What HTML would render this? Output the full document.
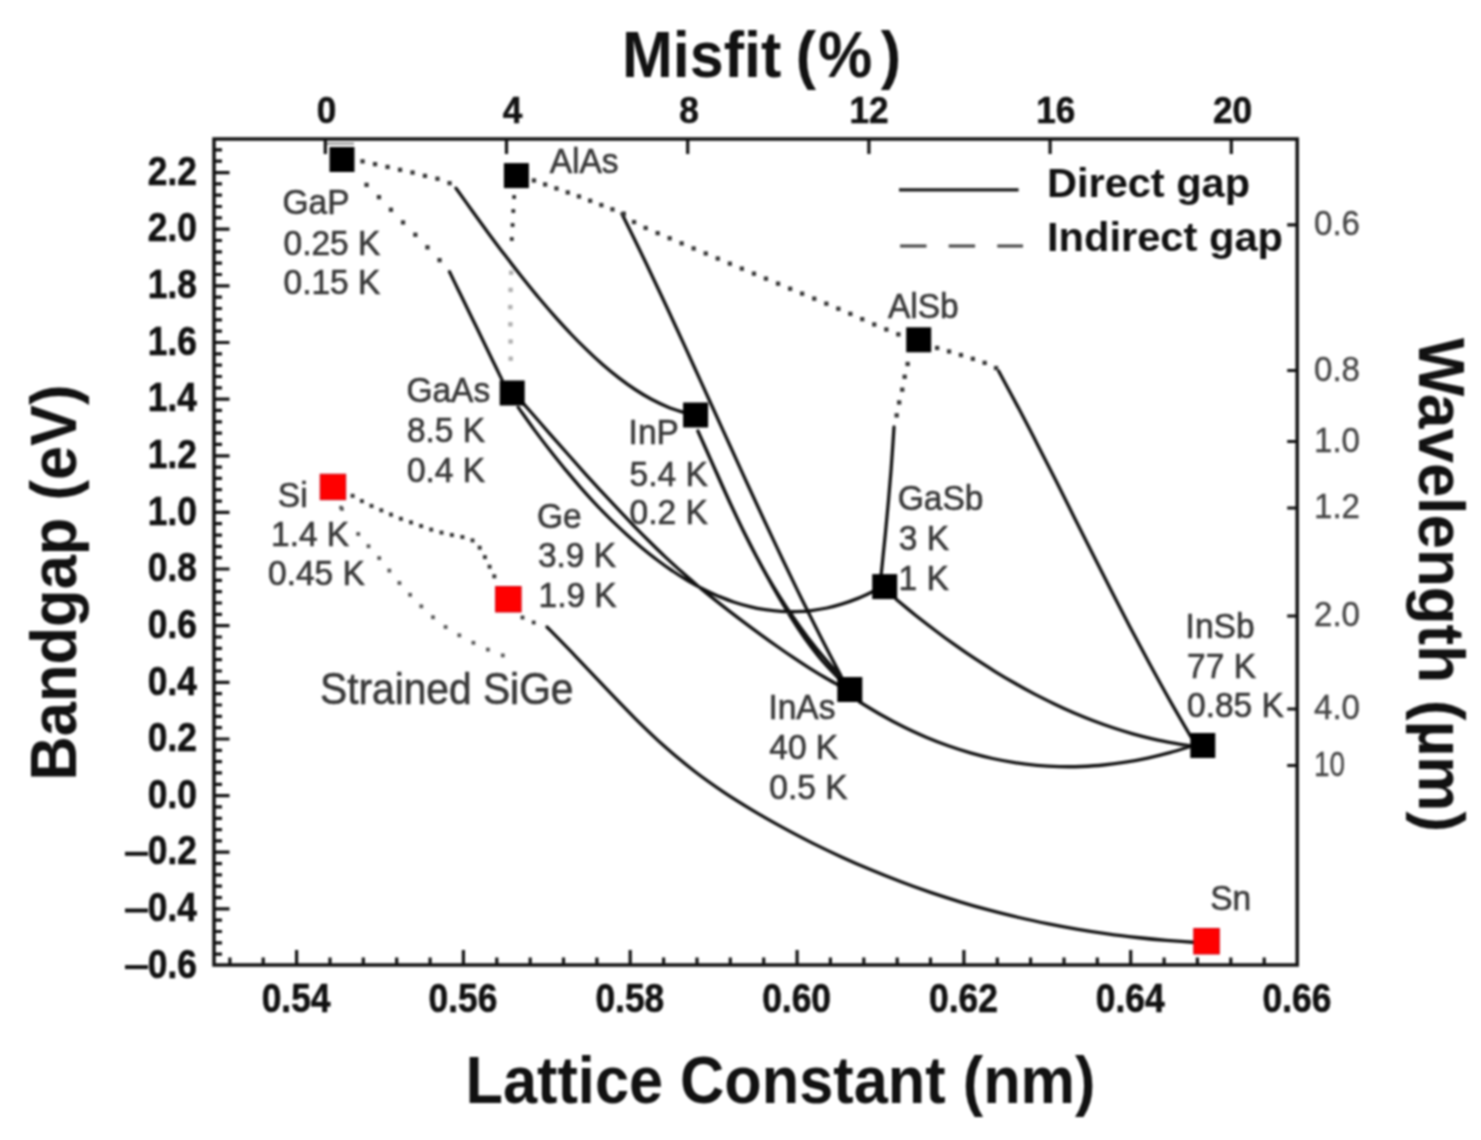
<!DOCTYPE html>
<html><head><meta charset="utf-8"><title>Bandgap vs Lattice Constant</title>
<style>html,body{margin:0;padding:0;background:#fff;}svg{display:block;} #wrap{filter:blur(1px);}</style></head>
<body>
<div id="wrap"><svg width="1481" height="1140" viewBox="0 0 1481 1140">
<rect width="1481" height="1140" fill="#fff"/>
<path d="M229.9,965 V957.5 M263.2,965 V957.5 M296.6,965 V950 M330,965 V957.5 M363.3,965 V957.5 M396.7,965 V957.5 M430.1,965 V957.5 M463.4,965 V950 M496.8,965 V957.5 M530.2,965 V957.5 M563.5,965 V957.5 M596.9,965 V957.5 M630.2,965 V950 M663.6,965 V957.5 M697,965 V957.5 M730.3,965 V957.5 M763.7,965 V957.5 M797.1,965 V950 M830.4,965 V957.5 M863.8,965 V957.5 M897.2,965 V957.5 M930.5,965 V957.5 M963.9,965 V950 M997.3,965 V957.5 M1030.6,965 V957.5 M1064,965 V957.5 M1097.3,965 V957.5 M1130.7,965 V950 M1164.1,965 V957.5 M1197.4,965 V957.5 M1230.8,965 V957.5 M1264.2,965 V957.5 M214,954.2 H222 M214,942.9 H222 M214,931.5 H222 M214,920.2 H222 M214,908.9 H229.5 M214,897.6 H222 M214,886.2 H222 M214,874.9 H222 M214,863.6 H222 M214,852.2 H229.5 M214,840.9 H222 M214,829.6 H222 M214,818.3 H222 M214,806.9 H222 M214,795.6 H229.5 M214,784.3 H222 M214,772.9 H222 M214,761.6 H222 M214,750.3 H222 M214,739 H229.5 M214,727.6 H222 M214,716.3 H222 M214,705 H222 M214,693.6 H222 M214,682.3 H229.5 M214,671 H222 M214,659.7 H222 M214,648.3 H222 M214,637 H222 M214,625.7 H229.5 M214,614.4 H222 M214,603 H222 M214,591.7 H222 M214,580.4 H222 M214,569 H229.5 M214,557.7 H222 M214,546.4 H222 M214,535.1 H222 M214,523.7 H222 M214,512.4 H229.5 M214,501.1 H222 M214,489.7 H222 M214,478.4 H222 M214,467.1 H222 M214,455.8 H229.5 M214,444.4 H222 M214,433.1 H222 M214,421.8 H222 M214,410.4 H222 M214,399.1 H229.5 M214,387.8 H222 M214,376.5 H222 M214,365.1 H222 M214,353.8 H222 M214,342.5 H229.5 M214,331.2 H222 M214,319.8 H222 M214,308.5 H222 M214,297.2 H222 M214,285.8 H229.5 M214,274.5 H222 M214,263.2 H222 M214,251.9 H222 M214,240.5 H222 M214,229.2 H229.5 M214,217.9 H222 M214,206.5 H222 M214,195.2 H222 M214,183.9 H222 M214,172.6 H229.5 M214,161.2 H222 M214,149.9 H222 M325.3,139 V154 M506.5,139 V154 M687.7,139 V154 M868.9,139 V154 M1050.1,139 V154 M1231.3,139 V154 M1297.2,224.8 H1287.2 M1297.2,370.5 H1287.2 M1297.2,441.5 H1287.2 M1297.2,508 H1287.2 M1297.2,616 H1287.2 M1297.2,709 H1287.2 M1297.2,765.5 H1287.2" fill="none" stroke="#111" stroke-width="3.2"/>
<rect x="214" y="139" width="1083.2" height="826" fill="none" stroke="#111" stroke-width="3.5"/>
<path d="M456,188.2 C458.7,192 466.9,203.5 472.3,211 C477.7,218.5 483.1,226 488.6,233.4 C494,240.7 499.4,248 504.9,255.1 C510.3,262.2 515.7,269.2 521.1,276 C526.6,282.9 532,289.6 537.4,296.1 C542.9,302.6 548.3,309 553.7,315.1 C559.1,321.3 564.6,327.2 570,333 C575.4,338.7 580.9,344.2 586.3,349.4 C591.7,354.7 597.1,359.7 602.6,364.5 C608,369.2 613.4,373.7 618.9,377.9 C624.3,382.1 629.7,386 635.1,389.5 C640.6,393.1 646,396.4 651.4,399.3 C656.9,402.2 662.3,404.8 667.7,407 C673.1,409.2 681.3,411.6 684,412.5 M449.5,271.8 C451,274.8 455.3,283.8 458.2,289.8 C461.2,295.8 464.1,301.8 467,307.8 C469.9,313.8 472.8,319.8 475.8,325.8 C478.7,331.8 481.6,337.8 484.5,343.8 C487.4,349.8 490.3,355.8 493.2,361.8 C496.2,367.8 500.5,376.8 502,379.8 M622,214 C625.1,220.4 634.7,239.7 640.9,252.5 C647.1,265.3 653.2,278.2 659.2,291 C665.3,303.8 671.2,316.7 677.1,329.5 C683,342.3 688.9,355.2 694.7,368 C700.6,380.8 706.4,393.7 712.2,406.5 C718,419.3 723.8,432.2 729.7,445 C735.5,457.8 741.3,470.7 747.2,483.5 C753.1,496.3 759,509.2 765,522 C771,534.8 777,547.7 783.1,560.5 C789.2,573.3 795.4,586.2 801.7,599 C808.1,611.8 814.4,624.7 821,637.5 C827.5,650.3 837.7,669.6 841,676 M697.9,431 C699.4,434.5 704,444.8 707.1,451.8 C710.2,458.7 713.2,465.6 716.3,472.5 C719.3,479.4 722.4,486.3 725.6,493.2 C728.7,500.2 731.9,507.1 735.2,514 C738.4,520.9 741.8,527.8 745.2,534.8 C748.6,541.7 752.1,548.6 755.8,555.5 C759.4,562.4 763.1,569.3 767,576.2 C770.8,583.2 774.7,590.1 778.7,597 C782.8,603.9 786.9,610.8 791.3,617.8 C795.6,624.7 800.1,631.6 805,638.5 C810,645.4 815.1,652.3 820.9,659.2 C826.8,666.2 836.8,676.5 840,680 M697.9,431 C699.4,434.4 704.1,444.8 707.2,451.7 C710.2,458.6 713.3,465.4 716.4,472.3 C719.4,479.2 722.5,486.1 725.6,493 C728.8,499.9 731.9,506.8 735.2,513.7 C738.4,520.6 741.7,527.4 745.1,534.3 C748.6,541.2 752.1,548.1 755.7,555 C759.4,561.9 763.2,568.8 767.1,575.7 C771.1,582.6 775.2,589.4 779.5,596.3 C783.8,603.2 788.3,610.1 793.1,617 C797.8,623.9 802.8,630.8 808,637.7 C813.3,644.6 818.8,651.4 824.6,658.3 C830.4,665.2 839.9,675.6 843,679 M522.8,402.8 C525.4,405.8 533.4,414.9 538.7,421 C543.9,427 549.2,433.1 554.5,439.1 C559.8,445.1 565.1,451.1 570.4,457 C575.7,463 581,468.9 586.2,474.8 C591.5,480.6 596.8,486.5 602.1,492.2 C607.4,497.9 612.7,503.6 618,509.2 C623.2,514.8 628.5,520.3 633.8,525.8 C639.1,531.2 644.4,536.5 649.7,541.7 C655,547 660.3,552.1 665.5,557.1 C670.8,562 676.1,566.9 681.4,571.6 C686.7,576.4 692,580.9 697.3,585.4 C702.5,589.9 707.8,594.2 713.1,598.4 C718.4,602.7 723.7,606.8 729,610.9 C734.3,615 739.6,619 744.8,622.9 C750.1,626.9 755.4,630.8 760.7,634.6 C766,638.5 771.3,642.3 776.6,646 C781.8,649.7 787.1,653.4 792.4,656.9 C797.7,660.5 803,664 808.3,667.3 C813.6,670.7 818.9,673.9 824.1,677 C829.4,680.2 837.4,684.5 840,686 M518.2,407.4 C520.8,411 528.5,421.9 533.6,428.9 C538.8,435.9 543.9,442.7 549.1,449.3 C554.2,455.9 559.4,462.3 564.5,468.6 C569.7,474.8 574.8,480.9 580,486.8 C585.1,492.6 590.2,498.3 595.4,503.8 C600.5,509.3 605.7,514.6 610.8,519.7 C616,524.7 621.1,529.6 626.3,534.3 C631.4,539 636.6,543.5 641.7,547.8 C646.9,552.1 652,556.2 657.2,560 C662.3,563.9 667.4,567.6 672.6,571 C677.7,574.5 682.9,577.8 688,580.8 C693.2,583.8 698.3,586.6 703.5,589.2 C708.6,591.8 713.8,594.2 718.9,596.4 C724.1,598.5 729.2,600.5 734.3,602.2 C739.5,603.9 744.6,605.4 749.8,606.6 C754.9,607.9 760.1,608.9 765.2,609.7 C770.4,610.5 775.5,611.1 780.7,611.4 C785.8,611.7 791,611.8 796.1,611.7 C801.3,611.6 806.4,611.2 811.5,610.6 C816.7,609.9 821.8,609.1 827,608 C832.1,606.9 837.3,605.5 842.4,603.9 C847.6,602.3 852.7,600.5 857.9,598.4 C863,596.3 870.7,592.5 873.3,591.3 M894,427 C893.8,430.5 893.1,441.2 892.6,448.3 C892.1,455.4 891.6,462.5 891.1,469.6 C890.5,476.7 889.9,483.8 889.3,490.9 C888.7,498 888.1,505 887.4,512.1 C886.7,519.2 886,526.3 885.4,533.4 C884.7,540.5 883.9,547.6 883.2,554.7 C882.5,561.8 881.4,572.5 881,576 M998.6,371 C1001.9,377.1 1011.8,395.4 1018.3,407.6 C1024.7,419.8 1031.1,432 1037.3,444.2 C1043.6,456.4 1049.8,468.6 1056,480.8 C1062.1,493 1068.2,505.2 1074.3,517.4 C1080.5,529.6 1086.6,541.8 1092.7,554 C1098.9,566.2 1105,578.4 1111.2,590.6 C1117.5,602.8 1123.7,615 1130.1,627.2 C1136.5,639.4 1143,651.6 1149.6,663.8 C1156.2,676 1162.9,688.2 1169.8,700.4 C1176.7,712.6 1187.5,730.9 1191,737 M896.1,599.3 C899.4,602 909.3,610.2 915.8,615.5 C922.4,620.7 929,625.8 935.6,630.7 C942.1,635.7 948.7,640.5 955.3,645.1 C961.9,649.8 968.4,654.3 975,658.7 C981.6,663 988.2,667.2 994.7,671.3 C1001.3,675.4 1007.9,679.3 1014.5,683 C1021,686.8 1027.6,690.4 1034.2,693.9 C1040.8,697.3 1047.3,700.6 1053.9,703.7 C1060.5,706.9 1067.1,709.9 1073.6,712.7 C1080.2,715.5 1086.8,718.2 1093.4,720.7 C1099.9,723.2 1106.5,725.5 1113.1,727.7 C1119.7,729.9 1126.2,731.9 1132.8,733.8 C1139.4,735.6 1146,737.3 1152.5,738.9 C1159.1,740.4 1165.7,741.8 1172.3,742.9 C1178.8,744.1 1188.7,745.5 1192,746 M859.6,702 C863.3,704.2 874.4,711.1 881.8,715.3 C889.1,719.5 896.5,723.4 903.9,727 C911.3,730.7 918.7,734 926.1,737.2 C933.5,740.3 940.9,743.2 948.2,745.8 C955.6,748.4 963,750.8 970.4,752.9 C977.8,755 985.2,756.9 992.6,758.5 C999.9,760.1 1007.3,761.5 1014.7,762.6 C1022.1,763.8 1029.5,764.7 1036.9,765.3 C1044.3,766 1051.7,766.4 1059,766.6 C1066.4,766.8 1073.8,766.8 1081.2,766.5 C1088.6,766.2 1096,765.8 1103.4,765 C1110.7,764.3 1118.1,763.4 1125.5,762.2 C1132.9,761.1 1140.3,759.7 1147.7,758.1 C1155.1,756.5 1162.5,754.7 1169.8,752.7 C1177.2,750.7 1188.3,747.1 1192,746 M547,627 C551.9,632 566.7,647 576.5,657.3 C586.3,667.5 596.2,678.1 606,688.4 C615.8,698.6 625.7,709 635.5,718.8 C645.3,728.5 655.2,738.1 665,746.8 C674.8,755.6 684.7,763.6 694.5,771.2 C704.3,778.8 714.2,785.7 724,792.3 C733.8,798.9 743.7,804.9 753.5,810.8 C763.3,816.7 773.2,822.2 783,827.6 C792.8,833 802.7,838.1 812.5,843.1 C822.3,848 832.2,852.7 842,857.2 C851.8,861.7 861.7,866 871.5,870.1 C881.3,874.2 891.2,878.1 901,881.8 C910.8,885.6 920.7,889.1 930.5,892.4 C940.3,895.7 950.2,898.9 960,901.8 C969.8,904.8 979.7,907.6 989.5,910.2 C999.3,912.8 1009.2,915.3 1019,917.5 C1028.8,919.8 1038.7,921.9 1048.5,923.9 C1058.3,925.9 1068.2,927.7 1078,929.3 C1087.8,931 1097.7,932.5 1107.5,933.8 C1117.3,935.2 1127.2,936.4 1137,937.5 C1146.8,938.6 1156.7,939.6 1166.5,940.4 C1176.3,941.2 1191.1,942.2 1196,942.5" fill="none" stroke="#111" stroke-width="3.3" stroke-linecap="round" stroke-linejoin="round"/>
<g fill="#333"><rect x="360.4" y="159.2" width="4.3" height="4.3"/><rect x="372.9" y="162" width="4.3" height="4.3"/><rect x="385.4" y="164.8" width="4.3" height="4.3"/><rect x="397.9" y="167.7" width="4.3" height="4.3"/><rect x="410.4" y="170.4" width="4.3" height="4.3"/><rect x="422.8" y="173.7" width="4.3" height="4.3"/><rect x="435.3" y="176.6" width="4.3" height="4.3"/><rect x="447.4" y="181" width="4.3" height="4.3"/></g>
<g fill="#333"><rect x="364.4" y="182.7" width="4.3" height="4.3"/><rect x="376.8" y="195" width="4.3" height="4.3"/><rect x="388.8" y="207.6" width="4.3" height="4.3"/><rect x="400.9" y="220.3" width="4.3" height="4.3"/><rect x="413.2" y="232.6" width="4.3" height="4.3"/><rect x="425.3" y="245.2" width="4.3" height="4.3"/><rect x="437.4" y="258" width="4.3" height="4.3"/></g>
<g fill="#333"><rect x="531.8" y="178.3" width="4.3" height="4.3"/><rect x="543" y="182.3" width="4.3" height="4.3"/><rect x="554.3" y="186.3" width="4.3" height="4.3"/><rect x="565.6" y="190.3" width="4.3" height="4.3"/><rect x="576.8" y="194.3" width="4.3" height="4.3"/><rect x="588" y="198.6" width="4.3" height="4.3"/><rect x="599.2" y="202.9" width="4.3" height="4.3"/><rect x="610.3" y="207.2" width="4.3" height="4.3"/><rect x="621.5" y="211.5" width="4.3" height="4.3"/></g>
<g fill="#2a2a2a"><rect x="512.2" y="195.1" width="3.8" height="3.8"/><rect x="511.4" y="209.1" width="3.8" height="3.8"/><rect x="510.7" y="223.1" width="3.8" height="3.8"/><rect x="509.9" y="237.1" width="3.8" height="3.8"/></g>
<g fill="#333"><rect x="621.4" y="212.2" width="4.3" height="4.3"/><rect x="631.9" y="219.9" width="4.3" height="4.3"/><rect x="643.5" y="225.8" width="4.3" height="4.3"/><rect x="655.5" y="231" width="4.3" height="4.3"/><rect x="667.5" y="236.1" width="4.3" height="4.3"/><rect x="679.5" y="241.2" width="4.3" height="4.3"/><rect x="691.5" y="246.3" width="4.3" height="4.3"/><rect x="703.6" y="251.3" width="4.3" height="4.3"/><rect x="715.6" y="256.4" width="4.3" height="4.3"/><rect x="727.7" y="261.5" width="4.3" height="4.3"/><rect x="739.7" y="266.5" width="4.3" height="4.3"/><rect x="751.8" y="271.5" width="4.3" height="4.3"/><rect x="763.8" y="276.5" width="4.3" height="4.3"/><rect x="775.9" y="281.5" width="4.3" height="4.3"/><rect x="788" y="286.6" width="4.3" height="4.3"/><rect x="800" y="291.5" width="4.3" height="4.3"/><rect x="812.1" y="296.5" width="4.3" height="4.3"/><rect x="824.2" y="301.5" width="4.3" height="4.3"/><rect x="836.2" y="306.6" width="4.3" height="4.3"/><rect x="848.2" y="311.7" width="4.3" height="4.3"/><rect x="860.1" y="317" width="4.3" height="4.3"/><rect x="872.1" y="322.3" width="4.3" height="4.3"/><rect x="884.2" y="327.3" width="4.3" height="4.3"/><rect x="896.2" y="332.2" width="4.3" height="4.3"/></g>
<g fill="#333"><rect x="935" y="345.8" width="4.3" height="4.3"/><rect x="946.9" y="349.3" width="4.3" height="4.3"/><rect x="958.8" y="352.9" width="4.3" height="4.3"/><rect x="970.7" y="356.7" width="4.3" height="4.3"/><rect x="982.5" y="360.7" width="4.3" height="4.3"/><rect x="993.9" y="365.9" width="4.3" height="4.3"/></g>
<g fill="#333"><rect x="905.5" y="361.8" width="4.3" height="4.3"/><rect x="902.5" y="374.6" width="4.3" height="4.3"/><rect x="900.1" y="387.5" width="4.3" height="4.3"/><rect x="897" y="400.3" width="4.3" height="4.3"/><rect x="894.5" y="413.2" width="4.3" height="4.3"/></g>
<g fill="#333"><rect x="350.6" y="493.8" width="4" height="4"/><rect x="359.9" y="499.1" width="4" height="4"/><rect x="369.5" y="503.9" width="4" height="4"/><rect x="379.3" y="508.3" width="4" height="4"/><rect x="389" y="512.6" width="4" height="4"/><rect x="398.9" y="516.8" width="4" height="4"/><rect x="409" y="520.4" width="4" height="4"/><rect x="419.1" y="524" width="4" height="4"/><rect x="429.2" y="527.6" width="4" height="4"/><rect x="439.5" y="530.6" width="4" height="4"/><rect x="449.9" y="533" width="4" height="4"/><rect x="460.4" y="535" width="4" height="4"/><rect x="470.5" y="538.4" width="4" height="4"/><rect x="477.7" y="545.7" width="4" height="4"/><rect x="482.9" y="555.1" width="4" height="4"/><rect x="487.6" y="564.7" width="4" height="4"/><rect x="492.3" y="574.3" width="4" height="4"/></g>
<g fill="#555"><rect x="356.3" y="532.1" width="3.8" height="3.8"/><rect x="366.6" y="544.3" width="3.8" height="3.8"/><rect x="377.3" y="556.2" width="3.8" height="3.8"/><rect x="387.4" y="568.7" width="3.8" height="3.8"/><rect x="397.5" y="581.1" width="3.8" height="3.8"/><rect x="408.2" y="592.9" width="3.8" height="3.8"/><rect x="419.4" y="604.4" width="3.8" height="3.8"/><rect x="431.1" y="615.3" width="3.8" height="3.8"/><rect x="443.7" y="625.1" width="3.8" height="3.8"/><rect x="457.4" y="633.4" width="3.8" height="3.8"/><rect x="471.5" y="640.9" width="3.8" height="3.8"/><rect x="486" y="647.7" width="3.8" height="3.8"/><rect x="500.9" y="653.5" width="3.8" height="3.8"/></g>
<g fill="#555"><rect x="339.2" y="505.8" width="3.6" height="3.6"/><rect x="340.2" y="507.2" width="3.6" height="3.6"/></g>
<g fill="#333"><rect x="520.6" y="615.6" width="3.8" height="3.8"/><rect x="531.8" y="620.6" width="3.8" height="3.8"/></g>
<g fill="#b0b0b0"><rect x="509" y="270.5" width="4.4" height="4.4"/><rect x="508.4" y="287.7" width="4.4" height="4.4"/><rect x="508.1" y="304.9" width="4.4" height="4.4"/><rect x="508.2" y="322.1" width="4.4" height="4.4"/><rect x="508.4" y="339.3" width="4.4" height="4.4"/><rect x="508.5" y="356.5" width="4.4" height="4.4"/></g>
<rect x="329.5" y="147" width="25" height="25" fill="#000"/>
<rect x="503.9" y="163.1" width="25" height="25" fill="#000"/>
<rect x="499.7" y="380.5" width="25" height="25" fill="#000"/>
<rect x="683.1" y="402.5" width="25" height="25" fill="#000"/>
<rect x="906.2" y="327.3" width="25" height="25" fill="#000"/>
<rect x="872.2" y="574.1" width="25" height="25" fill="#000"/>
<rect x="837.3" y="677" width="25" height="25" fill="#000"/>
<rect x="1190.3" y="733" width="25" height="25" fill="#000"/>
<rect x="320.2" y="474.2" width="25.5" height="25.5" fill="#f00" stroke="#d00010" stroke-width="1"/>
<rect x="495.6" y="586.5" width="25.5" height="25.5" fill="#f00" stroke="#d00010" stroke-width="1"/>
<rect x="1193.8" y="928.5" width="25.5" height="25.5" fill="#f00" stroke="#d00010" stroke-width="1"/>
<path d="M327,143.6 H354" stroke="#8a8a8a" stroke-width="2"/>
<g font-family="Liberation Sans, sans-serif" font-weight="bold" font-size="34" fill="#111" stroke="#111" stroke-width="0.5" text-anchor="end">
<text transform="translate(197,977.7) scale(1.04,1.18)">0.6</text>
<text transform="translate(197,921.1) scale(1.04,1.18)">0.4</text>
<text transform="translate(197,864.4) scale(1.04,1.18)">0.2</text>
<text transform="translate(197,807.8) scale(1.04,1.18)">0.0</text>
<text transform="translate(197,751.2) scale(1.04,1.18)">0.2</text>
<text transform="translate(197,694.5) scale(1.04,1.18)">0.4</text>
<text transform="translate(197,637.9) scale(1.04,1.18)">0.6</text>
<text transform="translate(197,581.2) scale(1.04,1.18)">0.8</text>
<text transform="translate(197,524.6) scale(1.04,1.18)">1.0</text>
<text transform="translate(197,468) scale(1.04,1.18)">1.2</text>
<text transform="translate(197,411.3) scale(1.04,1.18)">1.4</text>
<text transform="translate(197,354.7) scale(1.04,1.18)">1.6</text>
<text transform="translate(197,298) scale(1.04,1.18)">1.8</text>
<text transform="translate(197,241.4) scale(1.04,1.18)">2.0</text>
<text transform="translate(197,184.8) scale(1.04,1.18)">2.2</text>
</g>
<rect x="125" y="851.8" width="23" height="4" fill="#111"/>
<rect x="125" y="908.5" width="23" height="4" fill="#111"/>
<rect x="125" y="965.1" width="23" height="4" fill="#111"/>
<g font-family="Liberation Sans, sans-serif" font-weight="bold" font-size="34" fill="#111" stroke="#111" stroke-width="0.5" text-anchor="middle">
<text transform="translate(296.1,1011.8) scale(1.04,1.18)">0.54</text>
<text transform="translate(462.9,1011.8) scale(1.04,1.18)">0.56</text>
<text transform="translate(629.8,1011.8) scale(1.04,1.18)">0.58</text>
<text transform="translate(796.6,1011.8) scale(1.04,1.18)">0.60</text>
<text transform="translate(963.4,1011.8) scale(1.04,1.18)">0.62</text>
<text transform="translate(1130.2,1011.8) scale(1.04,1.18)">0.64</text>
<text transform="translate(1297,1011.8) scale(1.04,1.18)">0.66</text>
</g>
<g font-family="Liberation Sans, sans-serif" font-weight="bold" font-size="34.5" fill="#111" stroke="#111" stroke-width="0.5" text-anchor="middle">
<text transform="translate(326.6,122.6) scale(1.02,1.06)">0</text>
<text transform="translate(512.5,122.6) scale(1.02,1.06)">4</text>
<text transform="translate(689,122.6) scale(1.02,1.06)">8</text>
<text transform="translate(869,122.6) scale(1.02,1.06)">12</text>
<text transform="translate(1055.8,122.6) scale(1.02,1.06)">16</text>
<text transform="translate(1232.5,122.6) scale(1.02,1.06)">20</text>
</g>
<g font-family="Liberation Sans, sans-serif" font-size="32" fill="#444" stroke="#444" stroke-width="0.3">
<text transform="translate(1314,234.8) scale(1,1.09)" textLength="46" lengthAdjust="spacingAndGlyphs">0.6</text>
<text transform="translate(1314,380.5) scale(1,1.09)" textLength="46" lengthAdjust="spacingAndGlyphs">0.8</text>
<text transform="translate(1314,451.5) scale(1,1.09)" textLength="46" lengthAdjust="spacingAndGlyphs">1.0</text>
<text transform="translate(1314,518) scale(1,1.09)" textLength="46" lengthAdjust="spacingAndGlyphs">1.2</text>
<text transform="translate(1314,626) scale(1,1.09)" textLength="46" lengthAdjust="spacingAndGlyphs">2.0</text>
<text transform="translate(1314,719) scale(1,1.09)" textLength="46" lengthAdjust="spacingAndGlyphs">4.0</text>
<text transform="translate(1314,775.5) scale(1,1.09)" textLength="31" lengthAdjust="spacingAndGlyphs">10</text>
</g>
<g font-family="Liberation Sans, sans-serif" font-weight="bold" fill="#111">
<text transform="translate(622,76.8) scale(1,1.07)" font-size="61">Misfit <tspan dx="-2.5">(</tspan><tspan dx="2">%</tspan><tspan dx="8.5">)</tspan></text>
<text transform="translate(465.5,1102.5) scale(1,1.085)" font-size="61.5" textLength="630" lengthAdjust="spacingAndGlyphs">Lattice Constant (nm)</text>
<text transform="translate(76,780.5) rotate(-90) scale(1,1.05)" font-size="61.5" textLength="396" lengthAdjust="spacingAndGlyphs">Bandgap (eV)</text>
<text transform="translate(1418.5,338) rotate(90) scale(1,1.04)" font-size="61.5" textLength="494" lengthAdjust="spacingAndGlyphs">Wavelength (µm)</text>
<text transform="translate(1047,197) scale(1,1.055)" font-size="38" textLength="203" lengthAdjust="spacingAndGlyphs">Direct gap</text>
<text transform="translate(1047,251) scale(1,1.055)" font-size="38" textLength="236" lengthAdjust="spacingAndGlyphs">Indirect gap</text>
</g>
<path d="M899,189.8 H1018.6" stroke="#1a1a1a" stroke-width="3.2"/>
<path d="M900.1,246 H1023" stroke="#444" stroke-width="3" stroke-dasharray="26.4 22.2"/>
<g font-family="Liberation Sans, sans-serif" font-size="33.5" fill="#383838" stroke="#383838" stroke-width="0.6">
<text transform="translate(282.5,213.7) scale(1,1.07)">GaP</text>
<text transform="translate(283.5,254.7) scale(1,1.07)">0.25 K</text>
<text transform="translate(283.5,293.7) scale(1,1.07)">0.15 K</text>
<text transform="translate(549.7,173.4) scale(1,1.07)">AlAs</text>
<text transform="translate(887.9,317.8) scale(1,1.07)">AlSb</text>
<text transform="translate(406.4,401.6) scale(1,1.07)">GaAs</text>
<text transform="translate(406.9,441.6) scale(1,1.07)">8.5 K</text>
<text transform="translate(406.9,481.6) scale(1,1.07)">0.4 K</text>
<text transform="translate(628.6,444.1) scale(1,1.07)">InP</text>
<text transform="translate(629.6,485.6) scale(1,1.07)">5.4 K</text>
<text transform="translate(629.6,524.2) scale(1,1.07)">0.2 K</text>
<text transform="translate(277.8,506.5) scale(1,1.07)">Si</text>
<text transform="translate(271,545.9) scale(1,1.07)">1.4 K</text>
<text transform="translate(268,585.2) scale(1,1.07)">0.45 K</text>
<text transform="translate(536.9,527.9) scale(1,1.07)">Ge</text>
<text transform="translate(537.9,566.8) scale(1,1.07)">3.9 K</text>
<text transform="translate(538.5,607.4) scale(1,1.07)">1.9 K</text>
<text transform="translate(897.7,509.9) scale(1,1.07)">GaSb</text>
<text transform="translate(898.7,549.8) scale(1,1.07)">3 K</text>
<text transform="translate(898.5,590.3) scale(1,1.07)">1 K</text>
<text transform="translate(768.4,719.4) scale(1,1.07)">InAs</text>
<text transform="translate(769.3,758.7) scale(1,1.07)">40 K</text>
<text transform="translate(769.3,798.6) scale(1,1.07)">0.5 K</text>
<text transform="translate(1185.6,637.6) scale(1,1.07)">InSb</text>
<text transform="translate(1187.1,677.5) scale(1,1.07)">77 K</text>
<text transform="translate(1187,716.9) scale(1,1.07)">0.85 K</text>
<text transform="translate(1210.2,909.5) scale(1,1.07)">Sn</text>
<text transform="translate(320,703.8) scale(1.003,1.09)" font-size="40.6">Strained SiGe</text>
</g>
</svg></div>
</body></html>
